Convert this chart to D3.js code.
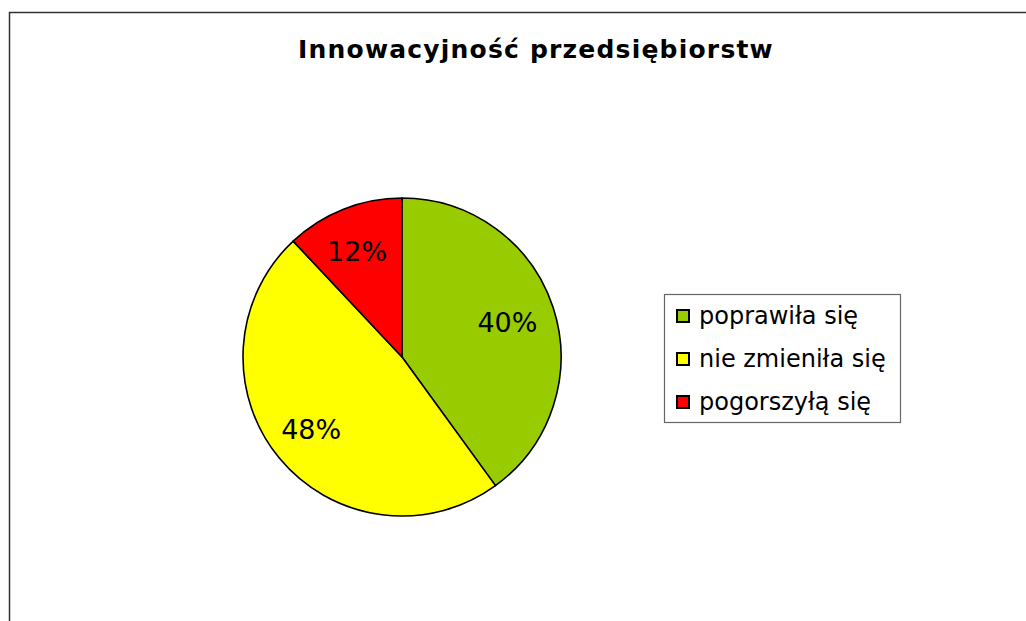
<!DOCTYPE html>
<html>
<head>
<meta charset="utf-8">
<script src="https://cdn.jsdelivr.net/npm/d3@7"></script>
<style>
  body { margin: 0; background: #fff; }
  svg text { font-family: "DejaVu Sans", Verdana, sans-serif; }
</style>
</head>
<body>
<div id="chart"></div>
<script>
var width = 1026;
var height = 621;

// data
var categories = ["poprawiła się", "nie zmieniła się", "pogorszyłą się"];
var values = [40, 48, 12];
var colors = ["#99CC00", "#FFFF00", "#FF0000"];
var title = "Innowacyjność przedsiębiorstw";

var svg = d3.select("#chart")
  .append("svg")
  .attr("width", width)
  .attr("height", height)

// outer chart frame (runs off the right and bottom edges)
svg.append("rect")
  .attr("x", 9.5)
  .attr("y", 12.5)
  .attr("width", 1040)
  .attr("height", 640)
  .attr("fill", "#fff")
  .attr("stroke", "#333")
  .attr("stroke-width", 1.5)

svg.append("text")
  .attr("x", 536)
  .attr("y", 58)
  .attr("text-anchor", "middle")
  .style("font-size", "25px")
  .style("font-weight", "bold")
  .style("letter-spacing", "1.2px")
  .text(title)

// pie
var cx = 402, cy = 357, radius = 159;

var pie = d3.pie()
  .sort(null)
  .value(d => d)

var arc = d3.arc()
  .innerRadius(0)
  .outerRadius(radius)

var labelArc = d3.arc()
  .innerRadius(114)
  .outerRadius(114)

var g = svg.append("g")
  .attr("transform", "translate(" + cx + "," + cy + ")")

var slices = pie(values)

g.selectAll("path")
  .data(slices)
  .join("path")
    .attr("d", arc)
    .attr("fill", (d, i) => colors[i])
    .attr("stroke", "#000")
    .attr("stroke-width", 1.6)
    .attr("stroke-linejoin", "round")

g.selectAll("text")
  .data(slices)
  .join("text")
    .attr("x", d => labelArc.centroid(d)[0] - 3)
    .attr("y", d => labelArc.centroid(d)[1])
    .attr("dy", "0.36em")
    .attr("text-anchor", "middle")
    .style("font-size", "27px")
    .style("fill", "#000")
    .text(d => d.value + "%")

// legend
var legend = svg.append("g")

legend.append("rect")
  .attr("x", 664.5)
  .attr("y", 294.5)
  .attr("width", 236)
  .attr("height", 128)
  .attr("fill", "#fff")
  .attr("stroke", "#666")
  .attr("stroke-width", 1.2)

var rowY = d3.scalePoint()
  .domain(categories)
  .range([316, 402])

var items = legend.selectAll("g.item")
  .data(categories)
  .join("g")
    .attr("class", "item")

items.append("rect")
  .attr("x", 677)
  .attr("y", d => rowY(d) - 6)
  .attr("width", 12)
  .attr("height", 12)
  .attr("fill", (d, i) => colors[i])
  .attr("stroke", "#000")
  .attr("stroke-width", 2)

items.append("text")
  .attr("x", 699)
  .attr("y", d => rowY(d) + 7.5)
  .style("font-size", "24px")
  .style("fill", "#000")
  .text(d => d)
</script>
</body>
</html>
